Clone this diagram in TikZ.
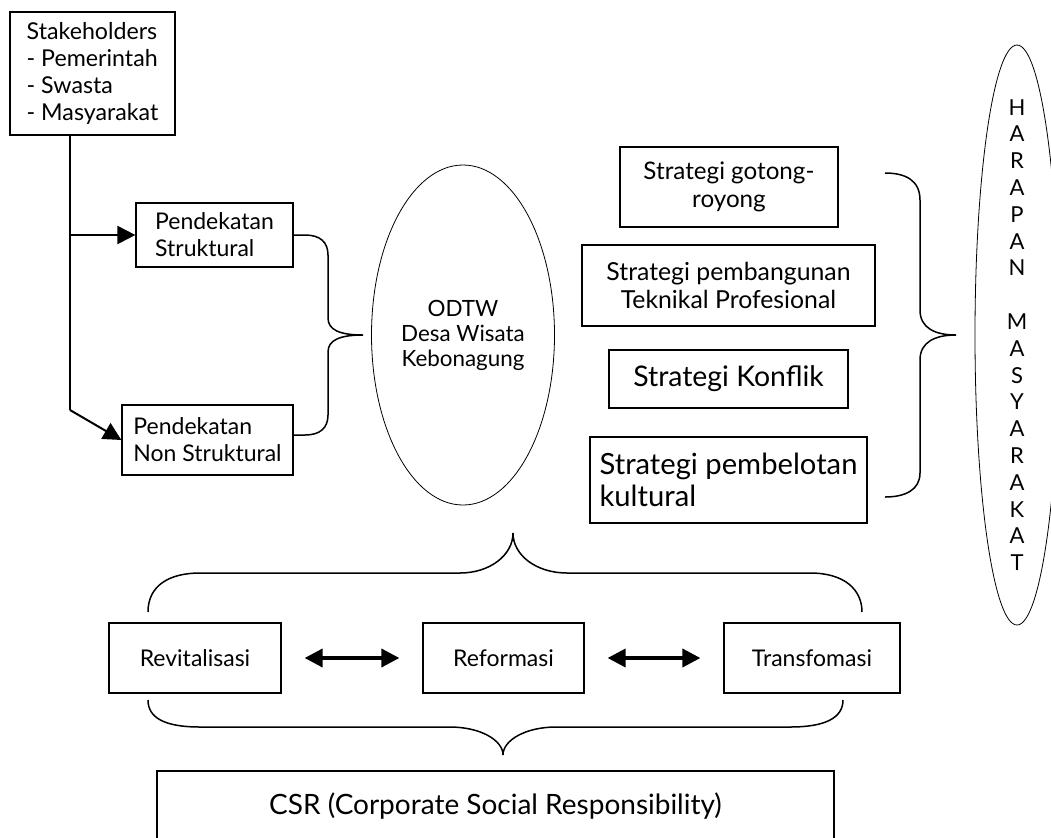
\documentclass[tikz,border=0pt]{standalone}
\usepackage{fontspec}
\setmainfont{Lato}
\usetikzlibrary{arrows.meta, positioning, shapes.geometric}

\begin{document}
\begin{tikzpicture}[
    x=0.5pt, y=-0.5pt,
    box/.style={rectangle, draw, line width=0.6pt, inner sep=0pt, font=\fontsize{11.6}{13.5}\selectfont},
    oval/.style={ellipse, draw, line width=0.4pt, inner sep=0pt},
    brace/.style={line width=0.75pt},
    link/.style={line width=1pt, -{Triangle[length=9pt,width=9pt]}},
    twoway/.style={line width=1.8pt, {Triangle[length=9pt,width=9pt]}-{Triangle[length=9pt,width=9pt]}, shorten <=11.5pt, shorten >=11.5pt}
]
\clip (0,0) rectangle (1051,837);

% -- LEFT: stakeholders and approaches --
\node[box, line width=0.9pt, align=left, minimum width=82.5pt, minimum height=61.5pt] (stake) at (92.5,73.5) {Stakeholders\\- Pemerintah\\- Swasta\\- Masyarakat};
\node[box, align=left, minimum width=78.5pt, minimum height=32pt, font=\fontsize{11.5}{13.5}\selectfont] (struk) at (214.5,235) {Pendekatan\\Struktural};
\node[box, align=left, minimum width=85.5pt, minimum height=35pt, font=\fontsize{11.5}{13.5}\selectfont] (nonstruk) at (207.5,440) {Pendekatan\\Non Struktural};

\coordinate (trunk) at (70,410);
\draw[line width=1pt] (stake.south -| trunk) -- (trunk);
\draw[link] (struk.west -| trunk) -- (struk.west);
\draw[link] (trunk) -- (nonstruk.west);

\draw[brace] (293,235) -- (305,235) .. controls (320,235) and (328,242) .. (328,255) -- (328,318)
    .. controls (328,330) and (340,335) .. (363,335) .. controls (340,335) and (328,340) .. (328,352)
    -- (328,415) .. controls (328,428) and (320,435) .. (305,435) -- (293,435);

% -- CENTRE: tourism village --
\node[oval, align=center, minimum width=91.5pt, minimum height=170pt, font=\fontsize{11.2}{12.5}\selectfont] (odtw) at (463,335) {ODTW\\Desa Wisata\\Kebonagung};

% -- RIGHT: strategies --
\node[box, align=center, minimum width=109pt, minimum height=40pt, font=\fontsize{12.1}{14}\selectfont] (gotong) at (729,187) {Strategi gotong-\\royong};
\node[box, align=center, minimum width=146.5pt, minimum height=40.5pt, font=\fontsize{12.4}{14}\selectfont] (pemb) at (728.5,285.5) {Strategi pembangunan\\Teknikal Profesional};
\node[box, minimum width=119.5pt, minimum height=29pt, font=\fontsize{14.2}{16}\selectfont] (konflik) at (728.5,379) {Strategi Konflik};
\node[box, align=left, minimum width=138.5pt, minimum height=43pt, font=\fontsize{14.6}{16}\selectfont] (pembel) at (728.5,480) {Strategi pembelotan\\kultural};

\draw[brace] (885,173) .. controls (905,173) and (920,180) .. (920,200) -- (920,310)
    .. controls (920,328) and (935,335) .. (956,335) .. controls (935,335) and (920,342) .. (920,360)
    -- (920,473) .. controls (920,490) and (905,497) .. (885,497);

\node[oval, minimum width=42pt, minimum height=290pt,
    label={[align=center, font=\fontsize{11}{13.4}\selectfont]center:{H\\A\\R\\A\\P\\A\\N\\[13.4pt]M\\A\\S\\Y\\A\\R\\A\\K\\A\\T}}] (harapan) at (1017,335) {};

% -- BOTTOM: change cycle and CSR --
\draw[brace] (148,612) .. controls (148,585) and (170,573) .. (200,573) -- (460,573)
    .. controls (490,573) and (513,555) .. (513,533) .. controls (513,555) and (536,573) .. (567,573)
    -- (810,573) .. controls (845,573) and (862,590) .. (862,612);

\node[box, minimum width=86pt, minimum height=35pt, font=\fontsize{11.5}{13}\selectfont] (revit) at (195,658) {Revitalisasi};
\node[box, minimum width=80.5pt, minimum height=35pt, font=\fontsize{11.5}{13}\selectfont] (reform) at (503.5,658) {Reformasi};
\node[box, minimum width=88pt, minimum height=35pt, font=\fontsize{11.5}{13}\selectfont] (transf) at (812,658) {Transfomasi};

\draw[twoway] (revit) -- (reform);
\draw[twoway] (reform) -- (transf);

\draw[brace] (148,700) .. controls (148,718) and (165,727) .. (200,727) -- (450,727)
    .. controls (480,727) and (503,740) .. (503,755) .. controls (503,740) and (526,727) .. (556,727)
    -- (790,727) .. controls (825,727) and (843,718) .. (843,700);

\node[box, line width=0.9pt, minimum width=338.5pt, minimum height=35pt, font=\fontsize{14}{16}\selectfont] (csr) at (495.5,806) {CSR (Corporate Social Responsibility)};

\end{tikzpicture}
\end{document}
